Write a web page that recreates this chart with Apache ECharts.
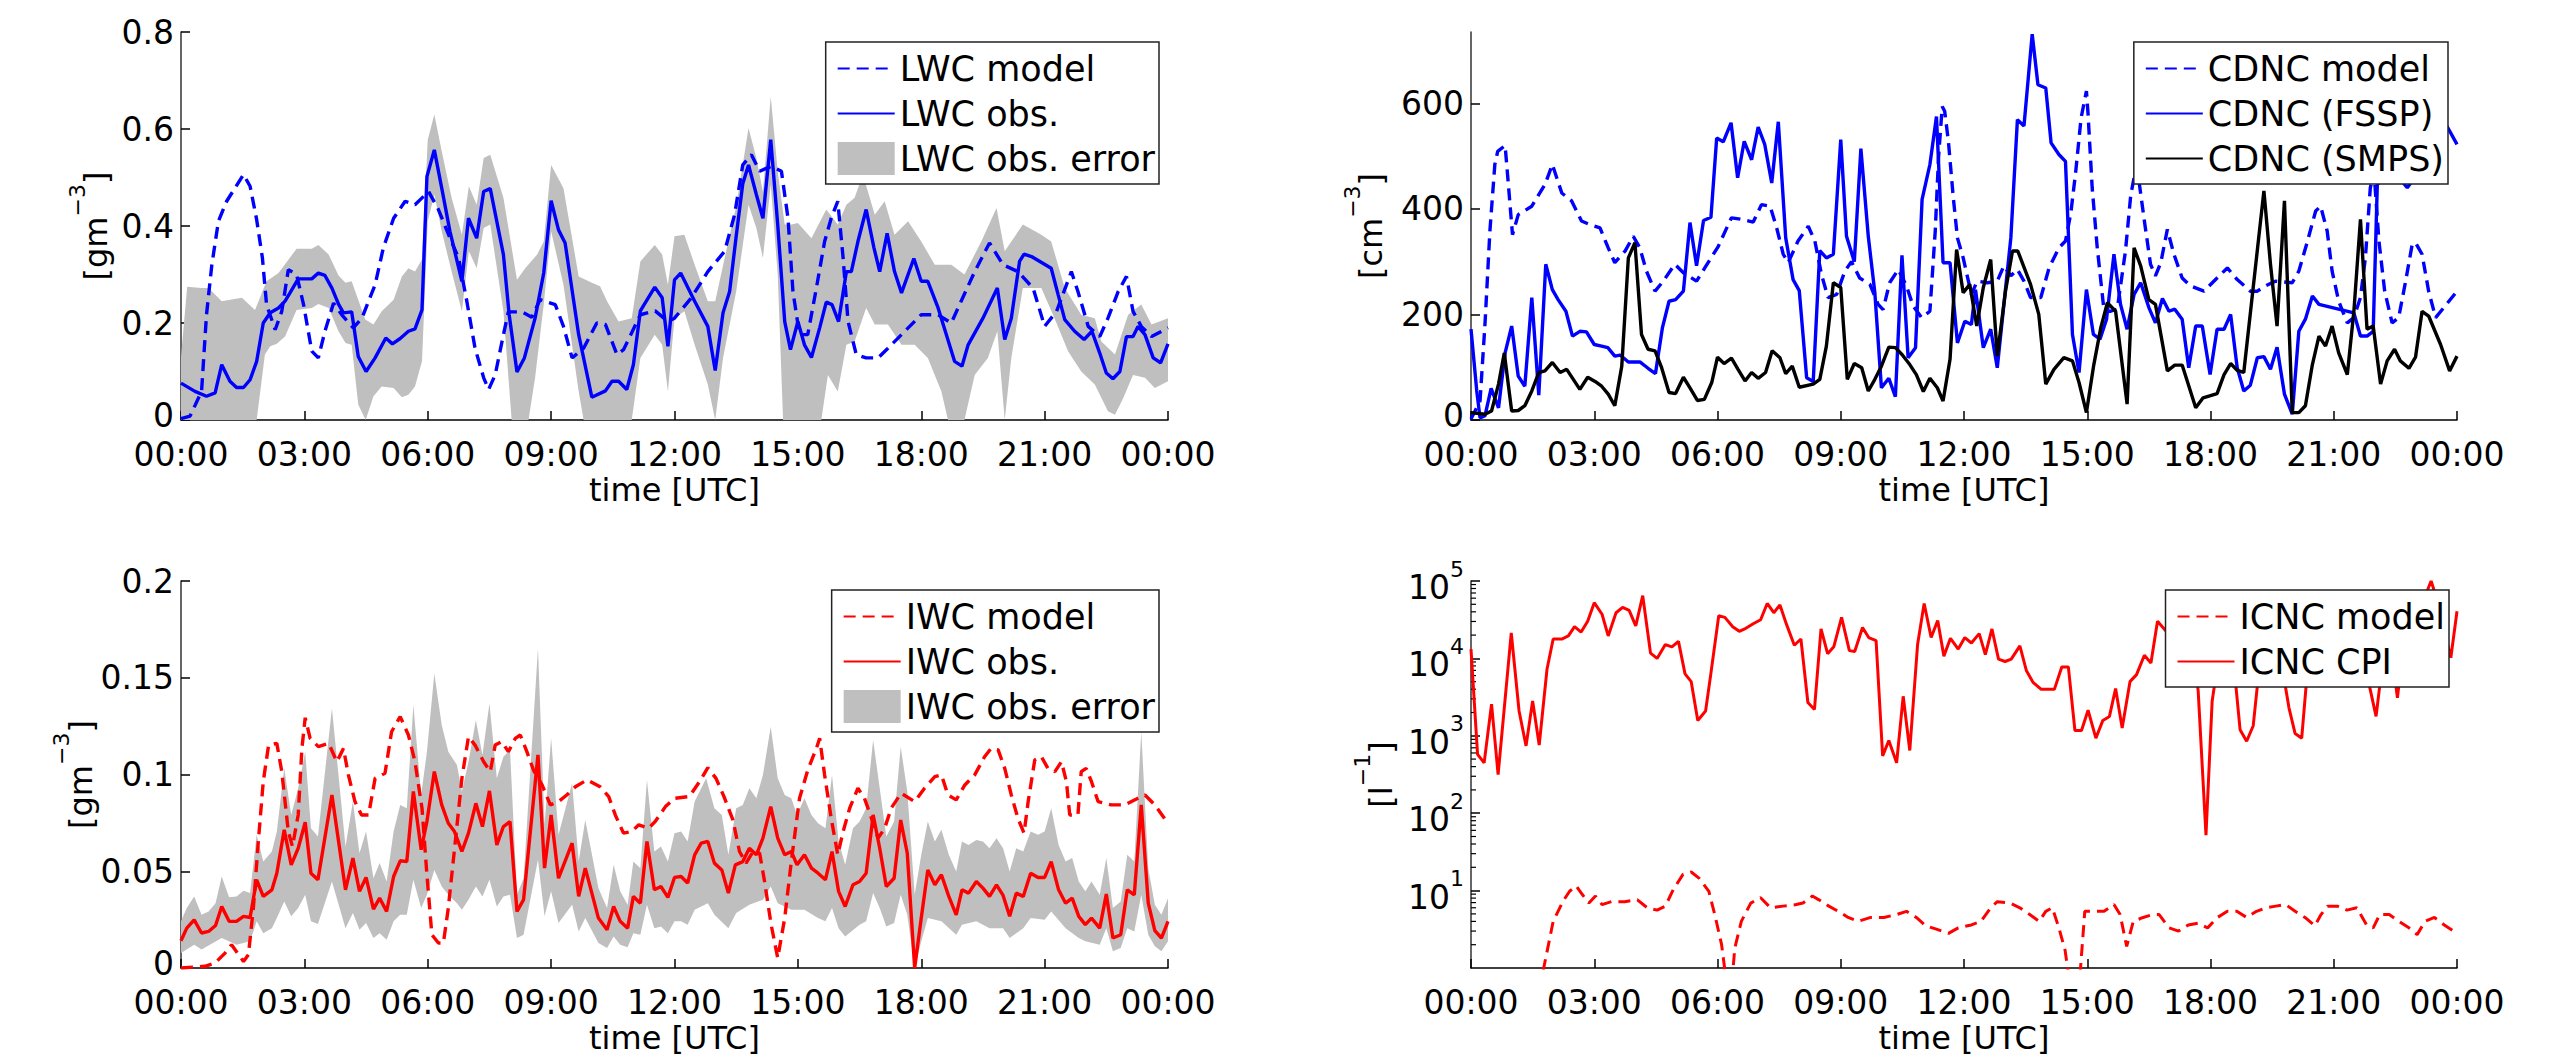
<!DOCTYPE html>
<html>
<head>
<meta charset="utf-8">
<script src="https://cdn.jsdelivr.net/npm/echarts@6/dist/echarts.min.js"></script>
<style>
html,body{margin:0;padding:0;background:#fff;}
#chart{width:2552px;height:1060px;}
</style>
</head>
<body>
<div id="chart"></div>
<script>
// ---------- tick labels ----------
const hourTicks = [0, 3, 6, 9, 12, 15, 18, 21, 24];
const cdncTicks = [0, 200, 400, 600];

// ---------- LWC panel [h, g m^-3] ----------
const lwcObs = [[0,0.076],[0.34,0.059],[0.62,0.049],[0.83,0.056],[0.99,0.114],[1.19,0.080],[1.35,0.067],[1.52,0.067],[1.68,0.083],[1.84,0.121],[2.0,0.200],[2.17,0.221],[2.37,0.231],[2.53,0.245],[2.65,0.262],[2.85,0.291],[3.18,0.291],[3.34,0.303],[3.50,0.298],[3.67,0.272],[3.83,0.239],[3.95,0.221],[4.15,0.223],[4.31,0.131],[4.50,0.100],[4.72,0.128],[4.98,0.169],[5.14,0.157],[5.33,0.168],[5.53,0.183],[5.69,0.188],[5.86,0.227],[5.98,0.502],[6.16,0.557],[6.34,0.478],[6.54,0.389],[6.83,0.286],[6.99,0.416],[7.19,0.375],[7.36,0.471],[7.52,0.477],[7.84,0.341],[7.98,0.217],[8.17,0.099],[8.35,0.128],[8.61,0.210],[8.82,0.303],[9.0,0.452],[9.18,0.392],[9.34,0.365],[9.67,0.176],[9.99,0.047],[10.32,0.060],[10.48,0.080],[10.64,0.080],[10.84,0.063],[11.0,0.114],[11.17,0.225],[11.52,0.274],[11.70,0.252],[11.84,0.152],[12.0,0.289],[12.15,0.303],[12.49,0.245],[12.81,0.193],[12.99,0.102],[13.18,0.221],[13.34,0.265],[13.50,0.379],[13.66,0.487],[13.80,0.526],[13.99,0.465],[14.15,0.416],[14.34,0.578],[14.51,0.403],[14.68,0.203],[14.82,0.145],[15.0,0.203],[15.16,0.155],[15.33,0.129],[15.53,0.190],[15.69,0.243],[15.83,0.238],[15.99,0.203],[16.18,0.306],[16.30,0.306],[16.46,0.368],[16.66,0.434],[16.85,0.355],[16.99,0.306],[17.17,0.385],[17.35,0.306],[17.52,0.262],[17.82,0.333],[18.0,0.286],[18.16,0.286],[18.41,0.231],[18.81,0.121],[18.99,0.111],[19.14,0.155],[19.50,0.210],[19.85,0.272],[20.03,0.166],[20.19,0.210],[20.39,0.327],[20.50,0.342],[20.68,0.337],[21.16,0.313],[21.33,0.258],[21.49,0.207],[21.73,0.183],[21.96,0.166],[22.15,0.183],[22.34,0.138],[22.50,0.097],[22.66,0.085],[22.83,0.100],[22.99,0.172],[23.15,0.172],[23.27,0.193],[23.44,0.176],[23.64,0.128],[23.82,0.118],[24.0,0.157]];
const lwcModel = [[0,0.003],[0.22,0.008],[0.50,0.059],[0.62,0.217],[0.75,0.320],[0.91,0.410],[1.11,0.451],[1.31,0.478],[1.52,0.506],[1.68,0.482],[1.84,0.413],[1.98,0.334],[2.08,0.238],[2.29,0.186],[2.45,0.224],[2.61,0.310],[2.81,0.300],[2.98,0.238],[3.18,0.142],[3.34,0.128],[3.50,0.183],[3.71,0.241],[3.91,0.217],[4.19,0.190],[4.40,0.210],[4.72,0.279],[4.92,0.355],[5.17,0.416],[5.45,0.451],[5.69,0.444],[6.02,0.471],[6.26,0.434],[6.54,0.375],[6.75,0.334],[6.95,0.245],[7.15,0.148],[7.36,0.087],[7.48,0.063],[7.64,0.093],[7.84,0.176],[7.96,0.223],[8.29,0.223],[8.53,0.212],[8.73,0.248],[9.10,0.238],[9.30,0.193],[9.51,0.128],[9.79,0.148],[10.11,0.200],[10.32,0.197],[10.60,0.135],[10.76,0.145],[11.17,0.217],[11.53,0.225],[11.84,0.203],[12.0,0.210],[12.41,0.252],[12.81,0.306],[13.22,0.348],[13.46,0.423],[13.66,0.526],[13.87,0.547],[14.07,0.513],[14.35,0.523],[14.60,0.513],[14.76,0.416],[14.88,0.265],[15.04,0.176],[15.24,0.176],[15.45,0.272],[15.65,0.368],[15.81,0.416],[15.97,0.451],[16.10,0.334],[16.22,0.203],[16.42,0.135],[16.66,0.128],[16.95,0.128],[17.19,0.148],[17.60,0.183],[18.0,0.217],[18.41,0.217],[18.73,0.200],[18.97,0.245],[19.30,0.306],[19.66,0.365],[19.99,0.320],[20.35,0.306],[20.72,0.272],[21.0,0.193],[21.29,0.224],[21.65,0.306],[21.81,0.265],[22.06,0.193],[22.34,0.172],[22.54,0.210],[22.79,0.265],[22.99,0.296],[23.15,0.224],[23.35,0.193],[23.60,0.172],[24.0,0.190]];
const lwcErrUp = [[0,0.13],[0.15,0.275],[0.5,0.272],[0.67,0.272],[0.99,0.245],[1.48,0.252],[1.80,0.227],[2.08,0.286],[2.37,0.303],[2.81,0.353],[3.18,0.353],[3.34,0.361],[3.59,0.341],[3.83,0.298],[4.0,0.283],[4.15,0.286],[4.48,0.207],[4.68,0.197],[4.88,0.224],[5.17,0.248],[5.37,0.296],[5.53,0.313],[5.69,0.306],[5.86,0.331],[6.0,0.578],[6.16,0.630],[6.34,0.554],[6.58,0.458],[6.83,0.382],[7.0,0.482],[7.19,0.444],[7.36,0.540],[7.52,0.547],[7.84,0.458],[8.17,0.289],[8.37,0.313],[8.66,0.341],[8.82,0.368],[9.0,0.526],[9.30,0.478],[9.67,0.296],[9.99,0.283],[10.19,0.276],[10.36,0.245],[10.64,0.203],[10.96,0.210],[11.17,0.327],[11.52,0.361],[11.70,0.341],[11.84,0.279],[12.0,0.379],[12.24,0.382],[12.49,0.320],[12.81,0.245],[12.99,0.245],[13.22,0.334],[13.50,0.440],[13.80,0.602],[13.99,0.540],[14.15,0.471],[14.34,0.667],[14.51,0.513],[14.68,0.403],[14.84,0.403],[15.0,0.406],[15.33,0.375],[15.69,0.434],[15.97,0.403],[16.18,0.444],[16.38,0.458],[16.58,0.506],[16.87,0.423],[17.11,0.451],[17.35,0.382],[17.68,0.410],[18.0,0.368],[18.33,0.320],[18.73,0.320],[19.05,0.300],[19.46,0.368],[19.83,0.437],[20.03,0.348],[20.47,0.403],[20.92,0.382],[21.16,0.368],[21.49,0.272],[21.89,0.217],[22.22,0.210],[22.38,0.162],[22.71,0.135],[23.03,0.217],[23.35,0.238],[23.60,0.197],[24.0,0.210]];
const lwcErrLo = [[0,0],[1.84,0],[2.04,0.135],[2.17,0.152],[2.33,0.157],[2.53,0.172],[2.81,0.227],[3.18,0.231],[3.34,0.239],[3.59,0.231],[3.83,0.183],[4.0,0.159],[4.15,0.155],[4.31,0.032],[4.49,0],[4.68,0.049],[4.88,0.069],[5.17,0.066],[5.37,0.047],[5.53,0.052],[5.69,0.069],[5.86,0.121],[6.0,0.410],[6.16,0.465],[6.34,0.389],[6.58,0.306],[6.83,0.224],[7.0,0.348],[7.19,0.313],[7.36,0.396],[7.52,0.403],[7.84,0.224],[8.04,0],[8.45,0],[8.61,0.087],[8.82,0.238],[9.0,0.389],[9.30,0.279],[9.67,0.059],[9.79,0],[10.96,0],[11.17,0.128],[11.52,0.176],[11.70,0.155],[11.84,0.059],[12.0,0.210],[12.24,0.224],[12.49,0.155],[12.81,0.073],[12.99,0],[13.18,0.128],[13.50,0.265],[13.80,0.444],[13.99,0.396],[14.15,0.334],[14.34,0.485],[14.51,0.300],[14.64,0],[15.57,0],[15.73,0.093],[15.97,0.059],[16.18,0.155],[16.38,0.162],[16.66,0.231],[16.87,0.197],[17.19,0.197],[17.52,0.155],[17.84,0.155],[18.16,0.128],[18.49,0.059],[18.65,0],[19.05,0],[19.30,0.093],[19.62,0.128],[19.85,0.183],[20.03,0],[20.19,0.128],[20.47,0.272],[20.92,0.272],[21.24,0.210],[21.57,0.142],[21.89,0.100],[22.22,0.073],[22.54,0.018],[22.71,0.011],[22.91,0.045],[23.15,0.093],[23.44,0.087],[23.68,0.066],[24.0,0.080]];

// ---------- CDNC panel [h, cm^-3] ----------
const cdncModel = [[0,2],[0.22,36],[0.34,181],[0.46,358],[0.58,484],[0.65,509],[0.83,520],[0.91,446],[1.01,351],[1.15,389],[1.48,405],[1.80,446],[1.98,484],[2.21,430],[2.45,415],[2.69,377],[2.90,370],[3.14,364],[3.34,326],[3.50,298],[3.75,320],[3.95,348],[4.11,326],[4.27,282],[4.48,244],[4.68,263],[4.96,295],[5.17,279],[5.49,263],[5.69,288],[6.02,329],[6.26,370],[6.34,383],[6.59,380],[6.87,375],[7.07,408],[7.28,405],[7.44,364],[7.60,314],[7.72,298],[7.96,339],[8.21,367],[8.37,339],[8.53,276],[8.69,232],[8.90,238],[9.10,282],[9.26,300],[9.46,269],[9.71,257],[9.91,219],[10.03,209],[10.19,260],[10.40,285],[10.60,254],[10.76,216],[10.97,194],[11.17,206],[11.30,358],[11.38,497],[11.47,594],[11.53,585],[11.62,528],[11.74,421],[11.84,345],[11.98,307],[12.18,238],[12.32,263],[12.57,260],[12.81,263],[12.97,292],[13.14,273],[13.30,285],[13.46,263],[13.62,232],[13.87,232],[14.07,288],[14.31,326],[14.47,339],[14.60,392],[14.72,471],[14.85,572],[14.98,623],[15.02,579],[15.12,440],[15.24,329],[15.41,206],[15.57,206],[15.73,210],[15.93,320],[16.06,427],[16.14,459],[16.26,452],[16.38,383],[16.54,295],[16.66,273],[16.79,298],[16.95,361],[17.11,314],[17.31,269],[17.51,254],[17.84,244],[18.16,269],[18.41,288],[18.65,266],[18.97,244],[19.14,244],[19.34,254],[19.58,263],[19.99,260],[20.15,282],[20.35,336],[20.56,396],[20.68,405],[20.84,358],[20.96,282],[21.12,225],[21.33,184],[21.49,194],[21.65,232],[21.77,307],[21.89,440],[21.98,470],[22.10,339],[22.24,244],[22.42,184],[22.58,194],[22.75,263],[22.91,333],[22.99,336],[23.15,314],[23.31,244],[23.48,194],[23.68,213],[24.0,244]];
const cdncFssp = [[0,172],[0.14,55],[0.22,4],[0.34,8],[0.49,60],[0.67,23],[0.83,127],[0.99,178],[1.15,83],[1.31,64],[1.48,232],[1.65,47],[1.82,295],[1.98,247],[2.12,228],[2.31,206],[2.47,159],[2.65,168],[2.81,167],[3.0,143],[3.18,140],[3.33,137],[3.50,121],[3.63,123],[3.83,110],[4.11,110],[4.31,98],[4.49,88],[4.66,175],[4.82,225],[4.98,228],[5.17,244],[5.33,374],[5.49,292],[5.66,378],[5.84,384],[5.98,534],[6.14,527],[6.33,563],[6.49,459],[6.65,528],[6.83,493],[6.99,555],[7.15,522],[7.32,449],[7.48,565],[7.66,345],[7.84,266],[7.99,245],[8.17,80],[8.33,73],[8.49,321],[8.65,307],[8.82,314],[9.0,531],[9.14,348],[9.33,300],[9.49,514],[9.67,348],[9.83,241],[9.99,61],[10.17,79],[10.33,44],[10.49,312],[10.64,118],[10.82,137],[10.98,418],[11.17,484],[11.33,575],[11.49,298],[11.66,298],[11.84,146],[12.02,187],[12.18,181],[12.28,247],[12.47,137],[12.65,172],[12.81,99],[13.14,345],[13.30,569],[13.46,557],[13.66,731],[13.80,635],[13.99,629],[14.12,525],[14.31,503],[14.47,490],[14.64,162],[14.80,90],[14.98,247],[15.15,162],[15.31,153],[15.47,191],[15.65,314],[15.81,219],[15.97,172],[16.14,238],[16.30,260],[16.50,213],[16.66,184],[16.83,230],[16.99,206],[17.13,210],[17.31,191],[17.47,99],[17.64,178],[17.80,178],[17.99,86],[18.16,172],[18.33,172],[18.49,200],[18.65,99],[18.81,55],[18.97,66],[19.14,118],[19.30,120],[19.46,96],[19.62,138],[19.80,49],[19.99,11],[20.15,168],[20.31,191],[20.48,235],[20.64,219],[21.49,203],[21.65,159],[21.81,159],[21.96,168],[22.06,446],[22.14,452],[22.46,471],[22.79,440],[23.19,484],[23.52,560],[23.76,556],[24.0,522]];
const cdncSmps = [[0,14],[0.34,11],[0.50,17],[0.67,68],[0.81,127],[0.99,17],[1.15,18],[1.31,27],[1.48,55],[1.65,90],[1.80,93],[1.98,109],[2.17,90],[2.33,96],[2.49,77],[2.65,58],[2.84,81],[3.02,73],[3.18,64],[3.34,49],[3.50,27],[3.67,102],[3.83,307],[3.99,336],[4.15,162],[4.31,134],[4.48,131],[4.64,99],[4.82,52],[4.98,50],[5.17,81],[5.33,61],[5.51,37],[5.68,39],[5.86,71],[6.0,119],[6.16,107],[6.34,117],[6.50,96],[6.67,74],[6.83,90],[6.99,79],[7.17,90],[7.33,131],[7.52,118],[7.66,88],[7.82,102],[7.99,62],[8.33,68],[8.49,77],[8.65,140],[8.82,260],[9.0,251],[9.16,77],[9.33,107],[9.51,99],[9.67,55],[9.83,77],[9.99,102],[10.17,138],[10.33,137],[10.49,124],[10.68,105],[10.84,86],[11.01,54],[11.17,79],[11.35,61],[11.49,36],[11.66,115],[11.82,323],[11.98,241],[12.14,257],[12.31,178],[12.47,251],[12.65,304],[12.81,121],[13.01,244],[13.18,320],[13.31,320],[13.62,257],[13.82,200],[13.99,68],[14.19,96],[14.43,118],[14.64,112],[14.80,71],[14.98,14],[15.16,105],[15.33,175],[15.49,222],[15.69,206],[15.83,118],[15.97,30],[16.14,326],[16.30,292],[16.50,228],[16.66,219],[16.95,93],[17.13,104],[17.31,104],[17.64,23],[17.82,42],[18.16,50],[18.33,86],[18.49,107],[18.65,94],[18.81,90],[19.30,434],[19.46,295],[19.62,178],[19.80,415],[19.99,14],[20.15,14],[20.31,27],[20.48,105],[20.64,159],[20.80,140],[20.96,178],[21.12,127],[21.33,86],[21.49,206],[21.65,380],[21.81,172],[21.96,178],[22.14,68],[22.30,112],[22.48,134],[22.62,112],[22.83,98],[22.99,119],[23.15,206],[23.31,197],[23.60,143],[23.82,93],[24.0,121]];

// ---------- IWC panel [h, g m^-3] ----------
const iwcObs = [[0,0.0141],[0.14,0.0206],[0.32,0.0249],[0.50,0.0181],[0.67,0.0189],[0.84,0.0220],[0.99,0.0318],[1.17,0.0241],[1.35,0.0241],[1.52,0.0267],[1.68,0.0261],[1.84,0.0456],[2.0,0.0370],[2.21,0.0404],[2.33,0.0490],[2.51,0.0714],[2.68,0.0533],[2.85,0.0619],[3.02,0.0753],[3.16,0.0490],[3.33,0.0456],[3.67,0.0894],[4.0,0.0404],[4.18,0.0568],[4.34,0.0396],[4.50,0.0468],[4.68,0.0304],[4.83,0.0361],[5.0,0.0292],[5.17,0.0473],[5.33,0.0554],[5.49,0.0550],[5.65,0.0912],[5.84,0.0611],[5.98,0.0757],[6.16,0.1015],[6.34,0.0843],[6.50,0.0748],[6.65,0.0705],[6.83,0.0602],[6.99,0.0697],[7.17,0.0851],[7.33,0.0731],[7.50,0.0915],[7.68,0.0636],[7.84,0.0731],[8.0,0.0757],[8.17,0.0292],[8.33,0.0353],[8.68,0.1101],[8.84,0.0516],[9.0,0.0791],[9.18,0.0464],[9.51,0.0645],[9.67,0.0370],[9.83,0.0516],[10.15,0.0258],[10.36,0.0198],[10.52,0.0318],[10.68,0.0241],[10.86,0.0206],[11.0,0.0370],[11.17,0.0335],[11.33,0.0654],[11.51,0.0404],[11.67,0.0421],[11.84,0.0365],[12.0,0.0468],[12.16,0.0473],[12.32,0.0439],[12.49,0.0585],[12.65,0.0645],[12.81,0.0654],[12.97,0.0542],[13.15,0.0507],[13.31,0.0387],[13.48,0.0533],[13.66,0.0550],[13.82,0.0619],[13.99,0.0585],[14.15,0.0671],[14.34,0.0834],[14.51,0.0671],[14.68,0.0585],[14.84,0.0602],[14.98,0.0533],[15.16,0.0585],[15.33,0.0516],[15.49,0.0490],[15.67,0.0456],[15.83,0.0602],[15.99,0.0396],[16.15,0.0318],[16.34,0.0430],[16.50,0.0447],[16.66,0.0490],[16.83,0.0791],[16.99,0.0619],[17.15,0.0421],[17.34,0.0464],[17.50,0.0765],[17.66,0.0593],[17.84,0.0],[18.0,0.0258],[18.16,0.0507],[18.33,0.0430],[18.49,0.0482],[18.67,0.0370],[18.85,0.0275],[18.99,0.0404],[19.15,0.0387],[19.34,0.0447],[19.50,0.0413],[19.66,0.0370],[19.83,0.0430],[19.99,0.0375],[20.15,0.0267],[20.31,0.0387],[20.48,0.0370],[20.66,0.0490],[20.84,0.0468],[21.0,0.0468],[21.16,0.0550],[21.34,0.0404],[21.51,0.0335],[21.67,0.0361],[21.83,0.0267],[21.99,0.0224],[22.14,0.0258],[22.34,0.0206],[22.50,0.0382],[22.66,0.0155],[22.85,0.0172],[23.01,0.0404],[23.18,0.0378],[23.35,0.0843],[23.52,0.0335],[23.68,0.0193],[23.84,0.0155],[24.0,0.0241]];
const iwcModel = [[0,0],[0.58,0.0009],[0.83,0.0026],[1.07,0.0077],[1.23,0.0120],[1.52,0.0034],[1.64,0.0069],[1.76,0.0310],[1.88,0.0654],[2.0,0.0963],[2.13,0.1152],[2.33,0.1161],[2.45,0.1015],[2.61,0.0705],[2.71,0.0628],[2.85,0.0791],[2.94,0.1135],[3.02,0.1293],[3.14,0.1187],[3.34,0.1144],[3.59,0.1161],[3.79,0.1066],[3.95,0.1135],[4.07,0.0998],[4.23,0.0860],[4.39,0.0791],[4.56,0.0791],[4.72,0.0980],[4.96,0.1006],[5.12,0.1221],[5.33,0.1299],[5.53,0.1204],[5.69,0.1066],[5.86,0.0826],[5.98,0.0482],[6.10,0.0172],[6.26,0.0129],[6.38,0.0129],[6.50,0.0310],[6.67,0.0654],[6.83,0.0980],[6.99,0.1195],[7.15,0.1152],[7.36,0.1066],[7.52,0.1015],[7.64,0.1152],[7.80,0.1170],[7.96,0.1118],[8.13,0.1187],[8.25,0.1204],[8.41,0.1118],[8.57,0.1023],[8.78,0.0946],[8.98,0.0843],[9.18,0.0860],[9.38,0.0894],[9.59,0.0937],[9.87,0.0972],[10.19,0.0937],[10.40,0.0886],[10.56,0.0791],[10.76,0.0697],[10.96,0.0705],[11.13,0.0740],[11.37,0.0722],[11.53,0.0757],[11.78,0.0834],[12.0,0.0877],[12.36,0.0886],[12.61,0.0963],[12.81,0.1035],[13.01,0.0980],[13.22,0.0877],[13.42,0.0765],[13.58,0.0602],[13.74,0.0542],[13.91,0.0602],[14.07,0.0593],[14.19,0.0447],[14.35,0.0224],[14.51,0.0052],[14.68,0.0258],[14.84,0.0550],[15.04,0.0877],[15.24,0.1023],[15.45,0.1135],[15.53,0.1187],[15.65,0.0998],[15.81,0.0774],[15.97,0.0585],[16.10,0.0705],[16.26,0.0826],[16.46,0.0929],[16.62,0.0877],[16.79,0.0774],[16.95,0.0671],[17.11,0.0722],[17.27,0.0826],[17.51,0.0903],[17.84,0.0860],[18.08,0.0929],[18.33,0.0989],[18.49,0.0998],[18.65,0.0894],[18.85,0.0869],[19.06,0.0946],[19.30,0.0998],[19.54,0.1092],[19.70,0.1135],[19.87,0.1127],[20.03,0.1032],[20.19,0.0894],[20.35,0.0774],[20.50,0.0697],[20.60,0.0860],[20.76,0.1075],[20.92,0.1092],[21.08,0.1032],[21.25,0.1015],[21.41,0.1066],[21.53,0.0963],[21.61,0.0791],[21.81,0.0791],[21.89,0.1015],[22.01,0.1032],[22.14,0.0963],[22.30,0.0860],[22.62,0.0843],[22.95,0.0843],[23.27,0.0877],[23.44,0.0894],[23.68,0.0843],[24.0,0.0748]];
const iwcErrUp = [[0,0.0241],[0.14,0.031],[0.32,0.037],[0.50,0.0275],[0.67,0.0292],[0.84,0.0335],[0.99,0.0473],[1.17,0.0365],[1.35,0.037],[1.52,0.0399],[1.68,0.0387],[1.84,0.0688],[2.0,0.055],[2.21,0.0602],[2.33,0.0705],[2.51,0.1032],[2.68,0.0791],[2.85,0.0929],[3.02,0.1118],[3.16,0.0722],[3.33,0.0679],[3.67,0.1342],[4.0,0.0628],[4.18,0.086],[4.34,0.0593],[4.50,0.0705],[4.68,0.0464],[4.83,0.0542],[5.0,0.0447],[5.17,0.0705],[5.33,0.0843],[5.49,0.0826],[5.65,0.1359],[5.84,0.0894],[5.98,0.1118],[6.16,0.1522],[6.34,0.1256],[6.50,0.1118],[6.71,0.1049],[6.83,0.0912],[6.99,0.1066],[7.17,0.1281],[7.33,0.1101],[7.50,0.1367],[7.68,0.098],[7.84,0.1092],[8.0,0.1127],[8.17,0.0378],[8.33,0.0464],[8.68,0.1651],[8.84,0.074],[9.0,0.1187],[9.18,0.0688],[9.51,0.0955],[9.67,0.055],[9.83,0.0765],[10.15,0.0413],[10.36,0.031],[10.52,0.0533],[10.68,0.0396],[10.86,0.0327],[11.0,0.055],[11.17,0.0516],[11.33,0.0972],[11.51,0.0602],[11.67,0.0628],[11.84,0.055],[12.0,0.0697],[12.16,0.0705],[12.32,0.0654],[12.49,0.086],[12.77,0.098],[12.97,0.0826],[13.15,0.0791],[13.31,0.0585],[13.50,0.0826],[13.66,0.0843],[13.82,0.0929],[13.99,0.0877],[14.15,0.0998],[14.34,0.1247],[14.51,0.098],[14.68,0.0894],[14.84,0.0877],[14.98,0.0791],[15.16,0.0877],[15.33,0.0791],[15.49,0.0748],[15.67,0.0722],[15.83,0.0998],[15.99,0.0654],[16.15,0.0533],[16.34,0.0722],[16.50,0.0757],[16.66,0.0826],[16.83,0.1178],[16.99,0.0929],[17.15,0.0679],[17.34,0.0757],[17.50,0.1144],[17.66,0.0912],[17.84,0.0378],[18.0,0.0585],[18.16,0.0757],[18.33,0.0654],[18.49,0.0714],[18.67,0.0585],[18.85,0.0499],[18.99,0.0654],[19.15,0.0636],[19.34,0.0662],[19.50,0.0654],[19.66,0.0619],[19.83,0.0671],[19.99,0.0619],[20.15,0.0499],[20.31,0.0619],[20.48,0.0602],[20.66,0.0705],[20.84,0.0688],[21.0,0.0705],[21.16,0.0826],[21.34,0.0636],[21.51,0.055],[21.67,0.0568],[21.83,0.0447],[21.99,0.0396],[22.14,0.0447],[22.34,0.0378],[22.50,0.0568],[22.66,0.031],[22.85,0.0344],[23.01,0.0585],[23.18,0.055],[23.35,0.1221],[23.52,0.0516],[23.68,0.0327],[23.84,0.0275],[24.0,0.0361]];
const iwcErrLo = [[0,0.0077],[0.32,0.012],[0.50,0.0095],[0.99,0.0155],[1.35,0.012],[1.68,0.0138],[1.84,0.0241],[2.0,0.018],[2.21,0.0206],[2.33,0.0258],[2.51,0.0344],[2.68,0.0267],[2.85,0.031],[3.02,0.0378],[3.16,0.0241],[3.33,0.0227],[3.67,0.0447],[4.0,0.0206],[4.18,0.0284],[4.34,0.0198],[4.50,0.0232],[4.68,0.0155],[4.83,0.018],[5.0,0.0146],[5.17,0.0241],[5.33,0.0275],[5.49,0.0275],[5.65,0.0456],[5.84,0.031],[5.98,0.0378],[6.16,0.0507],[6.34,0.0421],[6.50,0.0378],[6.71,0.0335],[6.83,0.0301],[6.99,0.0353],[7.17,0.0421],[7.33,0.037],[7.50,0.0456],[7.68,0.0318],[7.84,0.037],[8.0,0.0378],[8.17,0.0155],[8.33,0.0172],[8.68,0.0559],[8.84,0.0267],[9.0,0.0396],[9.18,0.0232],[9.51,0.0327],[9.67,0.0189],[9.83,0.0258],[10.15,0.0129],[10.36,0.0103],[10.52,0.0163],[10.68,0.012],[10.86,0.0107],[11.0,0.018],[11.17,0.0172],[11.33,0.0327],[11.51,0.0206],[11.67,0.0215],[11.84,0.018],[12.0,0.0241],[12.16,0.0241],[12.32,0.0224],[12.49,0.0301],[12.81,0.0335],[12.97,0.0275],[13.31,0.0206],[13.50,0.0284],[13.82,0.0327],[14.15,0.0353],[14.34,0.0421],[14.51,0.0335],[14.84,0.0301],[15.16,0.0301],[15.49,0.0258],[15.67,0.0241],[15.83,0.031],[15.99,0.0206],[16.15,0.0163],[16.50,0.0224],[16.66,0.0241],[16.83,0.0387],[16.99,0.031],[17.15,0.0215],[17.34,0.0232],[17.50,0.0378],[17.66,0.0275],[17.84,0.0],[18.0,0.0138],[18.16,0.0258],[18.49,0.0241],[18.85,0.0172],[18.99,0.0224],[19.34,0.0241],[19.66,0.0206],[19.99,0.0206],[20.15,0.0155],[20.48,0.0206],[20.66,0.0258],[21.0,0.0249],[21.16,0.0292],[21.51,0.0206],[21.83,0.0155],[21.99,0.0138],[22.34,0.012],[22.50,0.0206],[22.66,0.0086],[22.85,0.0103],[23.01,0.0206],[23.18,0.0189],[23.35,0.0378],[23.52,0.0172],[23.68,0.0112],[23.84,0.0086],[24.0,0.0138]];

// ---------- ICNC panel [h, l^-1] ----------
const icncModel = [[1.6,0.3],[1.77,1.0],[2.0,4.0],[2.24,7.3],[2.40,9.8],[2.56,11.5],[2.71,8.9],[2.87,6.9],[3.03,8.5],[3.19,6.6],[3.42,7.2],[3.74,7.2],[4.05,7.6],[4.29,6.0],[4.53,5.6],[4.73,6.3],[4.92,10.2],[5.16,16.2],[5.36,17.4],[5.55,14.5],[5.79,9.8],[5.95,4.5],[6.10,2.0],[6.30,0.3],[6.42,1.8],[6.58,4.0],[6.81,6.9],[7.05,8.1],[7.29,6.0],[7.60,6.3],[7.92,6.6],[8.08,6.9],[8.31,8.5],[8.47,7.6],[8.71,6.3],[8.94,5.4],[9.18,4.5],[9.42,4.0],[9.73,4.5],[10.05,4.5],[10.36,4.9],[10.60,5.4],[10.84,4.5],[11.07,3.5],[11.31,3.2],[11.62,2.8],[11.86,3.3],[12.18,3.6],[12.41,4.0],[12.65,6.0],[12.81,7.2],[13.12,6.9],[13.36,6.0],[13.60,4.9],[13.83,4.0],[13.99,5.4],[14.15,6.0],[14.31,3.3],[14.46,1.7],[14.66,0.3],[14.78,0.4],[14.94,5.4],[15.17,5.4],[15.41,5.4],[15.65,6.6],[15.80,4.9],[15.96,1.9],[16.12,4.0],[16.36,4.5],[16.59,4.9],[16.75,4.9],[16.99,3.3],[17.22,3.0],[17.46,3.6],[17.70,3.8],[17.93,3.3],[18.17,4.5],[18.41,5.4],[18.64,5.4],[18.88,4.5],[19.12,5.4],[19.35,6.0],[19.59,6.3],[19.83,6.6],[20.06,5.4],[20.30,4.5],[20.54,3.5],[20.69,4.9],[20.85,6.3],[21.09,6.3],[21.32,5.6],[21.56,6.0],[21.80,3.6],[21.96,3.3],[22.12,4.9],[22.35,4.9],[22.59,4.0],[22.83,3.3],[23.03,2.7],[23.22,4.0],[23.45,4.5],[23.69,3.6],[24.0,2.8]];
const icncCpi = [[0,13200],[0.16,575],[0.32,447],[0.50,2570],[0.66,316],[0.98,21400],[1.17,2090],[1.34,741],[1.50,2820],[1.66,759],[1.85,7240],[2.0,17800],[2.21,17800],[2.37,19500],[2.52,25700],[2.68,21900],[2.84,30200],[3.0,52500],[3.19,37200],[3.34,19500],[3.53,38900],[3.69,45700],[3.85,41700],[4.01,26300],[4.18,64600],[4.37,11700],[4.53,10000],[4.73,15100],[4.89,14100],[5.05,16600],[5.21,6310],[5.36,5010],[5.52,1580],[5.71,2090],[5.84,6460],[6.03,35500],[6.18,33900],[6.37,25700],[6.53,22400],[6.69,24500],[6.88,28200],[7.05,31600],[7.21,51300],[7.37,38900],[7.52,49000],[7.68,27500],[7.87,14800],[8.03,17800],[8.20,2690],[8.36,2190],[8.52,24000],[8.68,11500],[8.83,14100],[9.02,33900],[9.21,12600],[9.34,12300],[9.53,25100],[9.68,18600],[9.86,17000],[10.02,550],[10.17,871],[10.36,447],[10.52,3240],[10.68,646],[10.87,15100],[11.03,51300],[11.20,18600],[11.36,30900],[11.51,10700],[11.67,18200],[11.86,13200],[12.02,18600],[12.18,15800],[12.37,20900],[12.52,11200],[12.68,24000],[12.84,9770],[13.0,9120],[13.15,9770],[13.36,14500],[13.52,6920],[13.68,4900],[13.88,3980],[14.2,3980],[14.38,7760],[14.54,7760],[14.70,1170],[14.86,1170],[15.02,2140],[15.21,933],[15.38,1580],[15.54,1780],[15.69,4070],[15.85,1260],[16.04,5010],[16.20,6170],[16.39,11000],[16.55,8710],[16.71,30200],[17.0,20000],[17.3,28000],[17.55,16000],[17.70,3800],[17.89,52],[18.04,2800],[18.25,16000],[18.5,20000],[18.72,1200],[18.88,850],[19.04,1350],[19.25,16000],[19.6,22000],[19.91,2300],[20.06,1070],[20.22,930],[20.4,12600],[20.8,25000],[21.2,16000],[21.6,20000],[22.03,1780],[22.2,10000],[22.45,8000],[22.55,3100],[22.7,16000],[23.0,32000],[23.37,100000],[23.55,50000],[23.85,10200],[24.0,40700]];
const logMinorTicks = [2,3,4,5,6,7,8,9,20,30,40,50,60,70,80,90,200,300,400,500,600,700,800,900,2000,3000,4000,5000,6000,7000,8000,9000,20000,30000,40000,50000,60000,70000,80000,90000];

// ---------- styling ----------
const FONT = '"DejaVu Sans", Verdana, sans-serif';
const BLUE = '#0000ff', RED = '#ff0000', BLACK = '#000000', GREY = '#bfbfbf';
const DASH = [12, 7];
const TICK_FS = 33, NAME_FS = 32, LEG_FS = 35;
const LW = 3.4, LW_ICNC = 3.0;

function hhmm(v) { const h = Math.round(v) % 24; return (h < 10 ? '0' : '') + h + ':00'; }
function supRich(fs) {
  return {
    b: { fontSize: fs, fontFamily: FONT, color: '#000', lineHeight: 46, verticalAlign: 'bottom' },
    s: { fontSize: 22, fontFamily: FONT, color: '#000', lineHeight: 22, verticalAlign: 'top' },
    z: { fontSize: fs, fontFamily: FONT, color: '#000', lineHeight: 30, padding: [0, 0, 10, 0] }
  };
}
function linLabel(v) { return v === 0 ? '{z|0}' : String(+v.toFixed(4)); }

const grids = [
  { left: 181, top: 32, width: 987, height: 388 },
  { left: 1471, top: 32, width: 986, height: 388 },
  { left: 181, top: 581, width: 987, height: 387 },
  { left: 1471, top: 581, width: 986, height: 387 }
];

function xAxisFor(i) {
  return {
    type: 'value', gridIndex: i, min: 0, max: 24, interval: 3,
    axisLine: { show: true, onZero: false, lineStyle: { color: '#000', width: 1.5 } },
    axisTick: { show: true, inside: true, length: 9, customValues: hourTicks, lineStyle: { color: '#000', width: 1.5 } },
    axisLabel: { formatter: hhmm, fontSize: TICK_FS, lineHeight: 30, color: '#000', fontFamily: FONT, margin: 19, customValues: hourTicks },
    splitLine: { show: false },
    name: 'time [UTC]', nameLocation: 'middle', nameGap: 52,
    nameTextStyle: { fontSize: NAME_FS, lineHeight: 36, color: '#000', fontFamily: FONT }
  };
}
function yBase(i, nameRich, gap) {
  return {
    gridIndex: i,
    axisLine: { show: true, onZero: false, lineStyle: { color: '#333', width: 1.5 } },
    axisTick: { show: true, inside: true, length: 9, lineStyle: { color: '#000', width: 1.5 } },
    axisLabel: { fontSize: TICK_FS, lineHeight: 30, color: '#000', fontFamily: FONT, margin: 7, formatter: linLabel, rich: supRich(TICK_FS) },
    splitLine: { show: false },
    name: nameRich, nameLocation: 'middle', nameGap: gap,
    nameTextStyle: { fontSize: NAME_FS, color: '#000', fontFamily: FONT, rich: supRich(NAME_FS) }
  };
}
const yAxes = [
  Object.assign(yBase(0, '{b|[gm}{s|\u22123}{b|]}', 69), { type: 'value', min: 0, max: 0.8, interval: 0.2 }),
  Object.assign(yBase(1, '{b|[cm}{s|\u22123}{b|]}', 84), { type: 'value', min: 0, max: 735, interval: 200 }),
  Object.assign(yBase(2, '{b|[gm}{s|\u22123}{b|]}', 80), { type: 'value', min: 0, max: 0.2, interval: 0.05 }),
  Object.assign(yBase(3, '{b|[l}{s|\u22121}{b|]}', 74), { type: 'log', logBase: 10, min: 1, max: 100000, splitNumber: 5 })
];
yAxes[1].axisLabel.customValues = cdncTicks;
yAxes[1].axisTick.customValues = cdncTicks;
yAxes[3].axisLabel.formatter = function (v) {
  const e = Math.round(Math.log10(v));
  if (e === 0) return '';
  return '{b|10}{s|' + e + '}';
};
yAxes[3].axisLabel.showMinLabel = false;

function line(name, data, xi, color, dashed, width) {
  return {
    type: 'line', name: name, data: data, xAxisIndex: xi, yAxisIndex: xi,
    symbol: 'none', showSymbol: false, animation: false, clip: true,
    lineStyle: { color: color, width: width || LW, type: dashed ? DASH : 'solid' },
    itemStyle: { color: color }
  };
}
function band(name, up, lo, xi) {
  return {
    type: 'custom', name: name, xAxisIndex: xi, yAxisIndex: xi, data: [[0, 0]],
    silent: true, clip: true, animation: false, itemStyle: { color: GREY },
    renderItem: function (params, api) {
      const pts = up.map(p => api.coord(p)).concat(lo.slice().reverse().map(p => api.coord(p)));
      return { type: 'polygon', shape: { points: pts }, style: { fill: GREY, stroke: null } };
    }
  };
}
const minorTickSeries = {
  type: 'custom', name: 'minor', xAxisIndex: 3, yAxisIndex: 3, silent: true, animation: false, clip: false,
  data: logMinorTicks.map(v => [0, v]),
  renderItem: function (params, api) {
    const p = api.coord([0, api.value(1)]);
    return { type: 'line', shape: { x1: p[0], y1: p[1], x2: p[0] + 5, y2: p[1] }, style: { stroke: '#000', lineWidth: 1.2 } };
  }
};

function legend(names, right, top, rectFlags) {
  return {
    orient: 'vertical', right: right, top: top,
    data: names.map((n, k) => rectFlags && rectFlags[k]
      ? { name: n, icon: 'rect', itemStyle: { color: GREY } }
      : { name: n, itemStyle: { color: 'rgba(0,0,0,0)', borderWidth: 0, opacity: 0 } }),
    itemWidth: 57, itemHeight: 33, itemGap: 10, padding: [9, 4, 8, 11],
    backgroundColor: '#fff', borderColor: '#222', borderWidth: 1.5, borderRadius: 0,
    selectedMode: false,
    textStyle: { fontSize: LEG_FS, color: '#000', fontFamily: FONT, lineHeight: 35 }
  };
}

const option = {
  backgroundColor: '#fff',
  animation: false,
  grid: grids,
  xAxis: [0, 1, 2, 3].map(xAxisFor),
  yAxis: yAxes,
  legend: [
    legend(['LWC model', 'LWC obs.', 'LWC obs. error'], 1393, 42, [false, false, true]),
    legend(['CDNC model', 'CDNC (FSSP)', 'CDNC (SMPS)'], 104, 42),
    legend(['IWC model', 'IWC obs.', 'IWC obs. error'], 1393, 590, [false, false, true]),
    legend(['ICNC model', 'ICNC CPI'], 103, 590)
  ],
  series: [
    band('LWC obs. error', lwcErrUp, lwcErrLo, 0),
    line('LWC model', lwcModel, 0, BLUE, true),
    line('LWC obs.', lwcObs, 0, BLUE, false),
    line('CDNC model', cdncModel, 1, BLUE, true),
    line('CDNC (FSSP)', cdncFssp, 1, BLUE, false),
    line('CDNC (SMPS)', cdncSmps, 1, BLACK, false),
    band('IWC obs. error', iwcErrUp, iwcErrLo, 2),
    line('IWC model', iwcModel, 2, RED, true),
    line('IWC obs.', iwcObs, 2, RED, false),
    line('ICNC model', icncModel, 3, RED, true, LW_ICNC),
    line('ICNC CPI', icncCpi, 3, RED, false, LW_ICNC),
    minorTickSeries
  ]
};

const chart = echarts.init(document.getElementById('chart'), null, { renderer: 'svg' });
chart.setOption(option);
</script>
</body>
</html>
